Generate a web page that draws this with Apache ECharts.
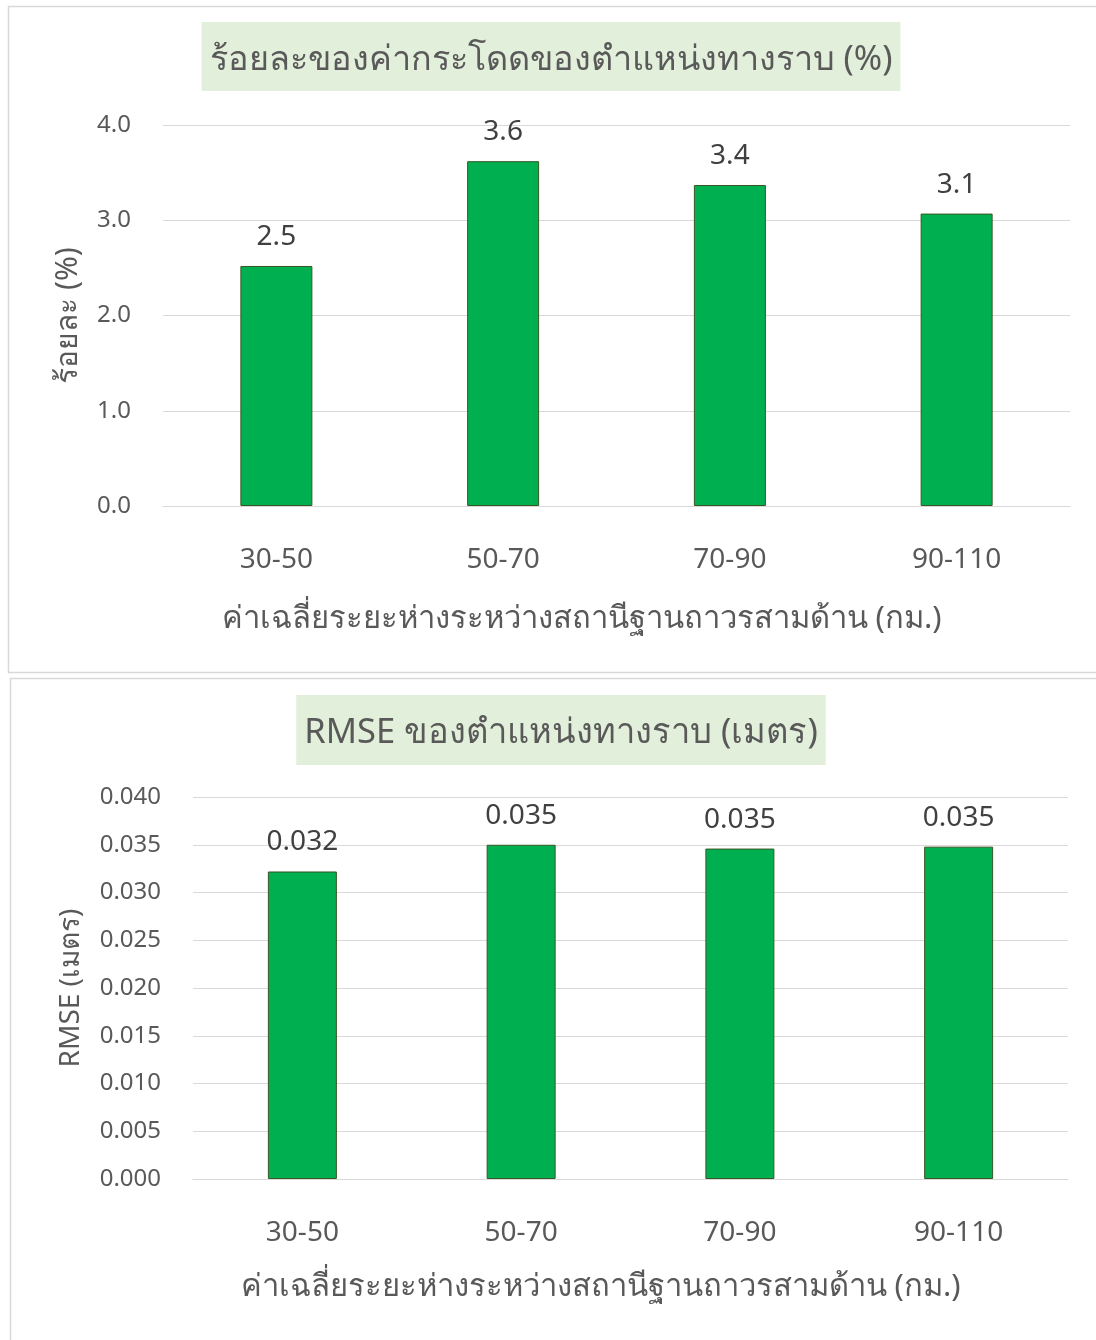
<!DOCTYPE html>
<html><head><meta charset="utf-8">
<script src="https://cdn.jsdelivr.net/npm/echarts@6/dist/echarts.min.js"></script>
<style>html,body{margin:0;padding:0;background:#fff}#c{width:1096px;height:1340px}</style>
</head><body><div id="c"></div>
<script>
const categories = ['30-50','50-70','70-90','90-110'];
const pctValues = [2.52, 3.62, 3.37, 3.07];
const rmseValues = [0.0322, 0.0350, 0.0346, 0.0348];
const pctTicks = {min:0, max:4, interval:1};
const rmseTicks = {min:0, max:0.04, interval:0.005};
const title1 = 'ร้อยละของค่ากระโดดของตำแหน่งทางราบ (%)';
const title2 = 'RMSE ของตำแหน่งทางราบ (เมตร)';
const xName = 'ค่าเฉลี่ยระยะห่างระหว่างสถานีฐานถาวรสามด้าน (กม.)';
const yName1 = 'ร้อยละ (%)';
const yName2 = 'RMSE (เมตร)';

const FONT = '"Noto Sans", "Open Sans", sans-serif';
const grey = '#595959';
const chart = echarts.init(document.getElementById('c'));
function titleOpt(text, x, top, fs){
  return {text, left:x, top, textAlign:'center', backgroundColor:'#E2EFDA', padding:[21,8,14,8],
    textStyle:{color:grey, fontSize:fs, fontWeight:'normal', fontFamily:FONT}};
}
function xAxisOpt(gi, padRight, gap){
  return {type:'category', gridIndex:gi, data:categories,
    axisLine:{show:true, lineStyle:{color:'#d9d9d9', width:1}}, axisTick:{show:false},
    axisLabel:{color:grey, fontSize:28, margin:40, fontFamily:FONT},
    name:xName, nameLocation:'middle', nameGap:gap,
    nameTextStyle:{color:grey, fontSize:31, fontFamily:FONT, padding:[0,padRight,0,0]}};
}
function yAxisOpt(gi, t, dec, name, gap, nfs){
  return {type:'value', gridIndex:gi, min:t.min, max:t.max, interval:t.interval,
    axisLine:{show:false}, axisTick:{show:false},
    splitLine:{lineStyle:{color:'#d9d9d9', width:1}},
    axisLabel:{color:grey, fontSize:24, margin:32, fontFamily:FONT, formatter:v=>v.toFixed(dec)},
    name, nameLocation:'middle', nameRotate:90, nameGap:gap,
    nameTextStyle:{color:grey, fontSize:nfs, fontFamily:FONT}};
}
function barSeries(i, data, dec, bw){
  return {type:'bar', xAxisIndex:i, yAxisIndex:i, data, barWidth:bw,
    itemStyle:{color:'#00B050', borderColor:'#375623', borderWidth:1},
    label:{show:true, position:'top', distance:15, color:'#404040', fontSize:28, fontFamily:FONT,
      formatter:p=>p.value.toFixed(dec)}};
}
chart.setOption({
  animation:false,
  graphic:[
    {type:'rect', shape:{x:8.5, y:6.5, width:1100, height:666}, style:{fill:'none', stroke:'#d9d9d9', lineWidth:1.5}, z:-10},
    {type:'rect', shape:{x:10.5, y:678.5, width:1100, height:700}, style:{fill:'none', stroke:'#d9d9d9', lineWidth:1.5}, z:-10}
  ],
  title:[titleOpt(title1, 543, 22, 34.2), titleOpt(title2, 553, 695, 34.5)],
  grid:[
    {left:163, right:26, top:125, height:381},
    {left:193, right:28, top:797, height:382}
  ],
  xAxis:[xAxisOpt(0, 70, 98), xAxisOpt(1, 60, 93)],
  yAxis:[yAxisOpt(0, pctTicks, 1, yName1, 80, 30), yAxisOpt(1, rmseTicks, 3, yName2, 108, 28)],
  series:[barSeries(0, pctValues, 1, 72), barSeries(1, rmseValues, 3, 69)]
});
</script></body></html>
